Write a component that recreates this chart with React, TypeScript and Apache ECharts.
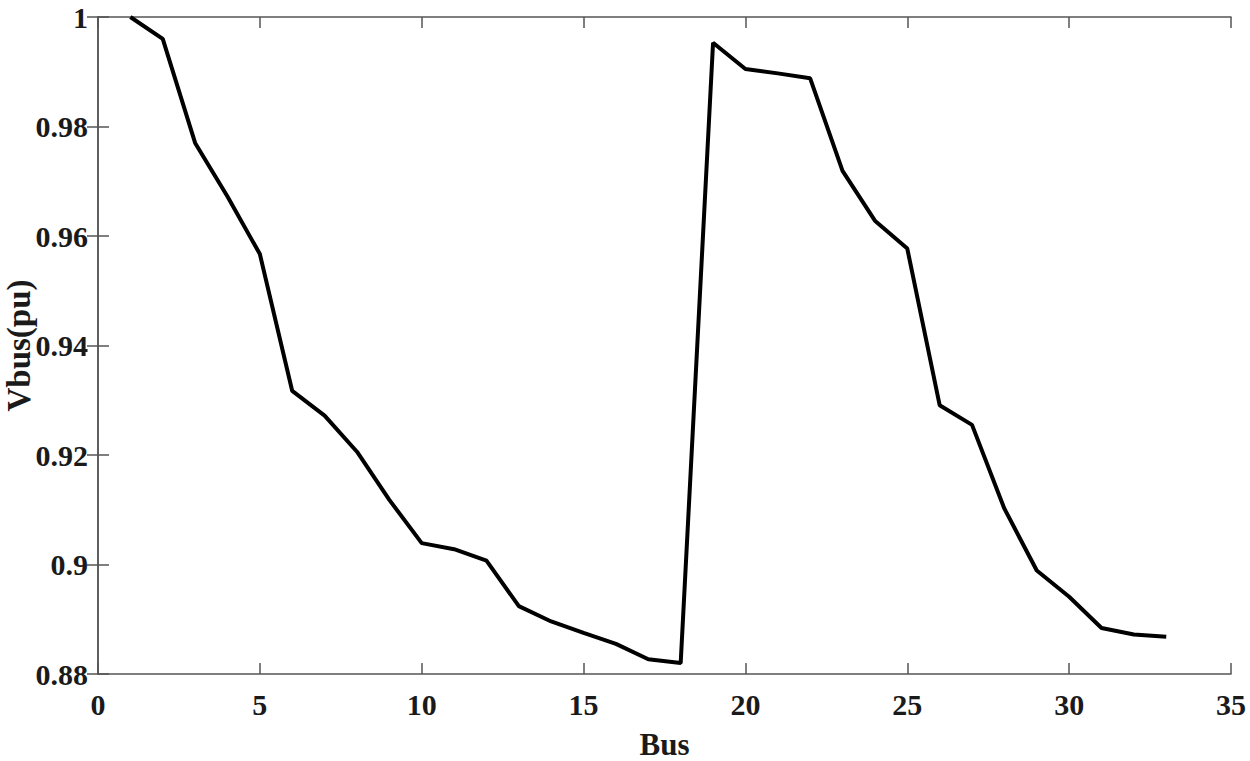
import React, { useEffect, useRef } from "react";
import * as echarts from "echarts";

const busNumbers = [
  1, 2, 3, 4, 5, 6, 7, 8, 9, 10, 11, 12, 13, 14, 15, 16, 17, 18, 19, 20, 21, 22,
  23, 24, 25, 26, 27, 28, 29, 30, 31, 32, 33,
];
const vbusValues = [
  1.0, 0.996, 0.977, 0.9672, 0.9567, 0.9317, 0.9272, 0.9206, 0.9118, 0.9039,
  0.9028, 0.9007, 0.8924, 0.8896, 0.8875, 0.8855, 0.8827, 0.882, 0.9953,
  0.9905, 0.9897, 0.9888, 0.9719, 0.9628, 0.9577, 0.9291, 0.9255, 0.9102,
  0.8989, 0.8941, 0.8884, 0.8872, 0.8868,
];
const xTitle = "Bus";
const yTitle = "Vbus(pu)";

const FONT = "Liberation Serif";
const AXIS_COLOR = "#555555";

export default function App() {
  const ref = useRef<HTMLDivElement>(null);

  useEffect(() => {
    if (!ref.current) return;
    const chart = echarts.init(ref.current, undefined, { renderer: "svg" });
    const labelStyle = {
      fontFamily: FONT,
      fontWeight: "bold" as const,
      fontSize: 30,
      color: "#1a1a1a",
    };
    const tick = { show: true, inside: true, length: 11, lineStyle: { color: AXIS_COLOR, width: 1.5 } };
    const axisLine = { show: true, lineStyle: { color: AXIS_COLOR, width: 1.5 } };
    chart.setOption({
      animation: false,
      backgroundColor: "#ffffff",
      grid: {
        left: 98,
        top: 17,
        right: 19,
        bottom: 87,
        containLabel: false,
        outerBoundsMode: "none",
      },
      xAxis: [
        {
          type: "value",
          min: 0,
          max: 35,
          interval: 5,
          name: xTitle,
          nameLocation: "middle",
          nameGap: 55,
          nameTextStyle: { ...labelStyle, fontSize: 31 },
          axisLine,
          axisTick: tick,
          axisLabel: { ...labelStyle, margin: 15 },
          splitLine: { show: false },
        },
        {
          type: "value",
          position: "top",
          min: 0,
          max: 35,
          interval: 5,
          axisLine,
          axisTick: tick,
          axisLabel: { show: false },
          splitLine: { show: false },
        },
      ],
      yAxis: [
        {
          type: "value",
          min: 0.88,
          max: 1,
          interval: 0.02,
          name: yTitle,
          nameLocation: "middle",
          nameGap: 63,
          nameMoveOverlap: false,
          nameTextStyle: { ...labelStyle, fontSize: 33, lineHeight: 33 },
          axisLine,
          axisTick: tick,
          axisLabel: {
            ...labelStyle,
            margin: 10,
            formatter: (v: number) => String(parseFloat(v.toFixed(2))),
          },
          splitLine: { show: false },
        },
        {
          type: "value",
          position: "right",
          min: 0.88,
          max: 1,
          interval: 0.02,
          axisLine,
          axisTick: tick,
          axisLabel: { show: false },
          splitLine: { show: false },
        },
      ],
      series: [
        {
          type: "line",
          data: busNumbers.map((b, i) => [b, vbusValues[i]]),
          xAxisIndex: 0,
          yAxisIndex: 0,
          showSymbol: false,
          symbol: "none",
          lineStyle: { color: "#000000", width: 4 },
        },
      ],
    });
    return () => chart.dispose();
  }, []);

  return (
    <div
      ref={ref}
      style={{ position: "fixed", left: 0, top: 0, width: 1250, height: 761, background: "#fff" }}
    />
  );
}
